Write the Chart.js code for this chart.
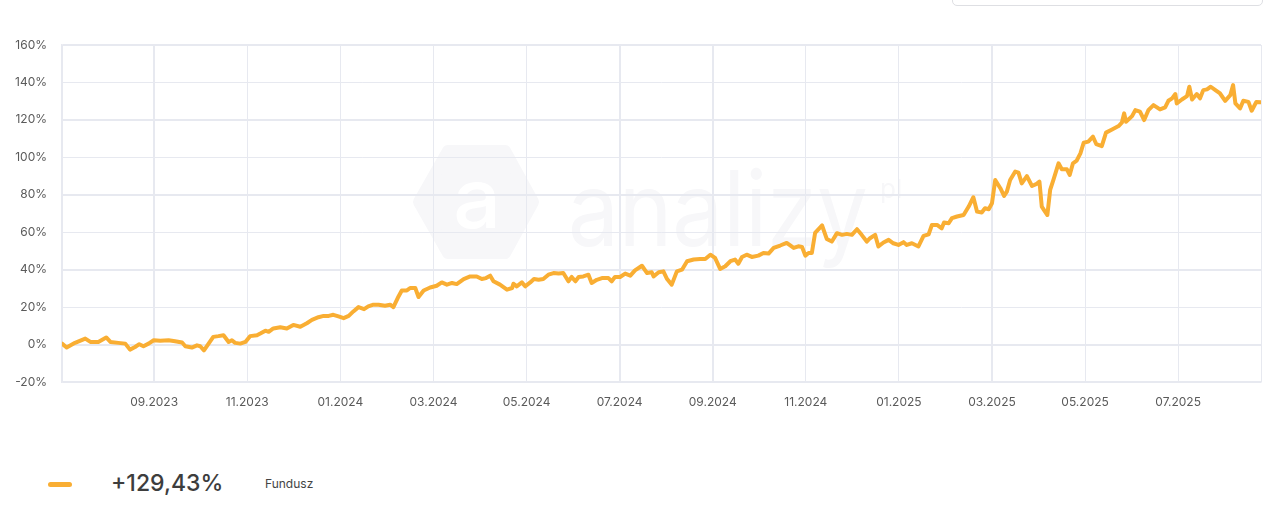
<!DOCTYPE html>
<html lang="pl">
<head>
<meta charset="utf-8">
<title>Fundusz</title>
<script src="https://cdn.jsdelivr.net/npm/chart.js@4.4.1/dist/chart.umd.min.js"></script>
<style>
  html, body { margin: 0; padding: 0; background: #fff; }
  body { width: 1284px; height: 508px; position: relative; overflow: hidden; font-family: Inter, "Noto Sans", sans-serif; }
  #wrap { position: absolute; left: 0; top: 0; width: 1284px; height: 430px; }
  #topBox { position: absolute; left: 952px; top: -30px; width: 309px; height: 34px; border: 1px solid #dedfe3; border-radius: 5px; }
  .legend-dash { position: absolute; left: 48px; top: 482px; width: 24px; height: 5px; border-radius: 3px; background: #f9ae33; }
  .legend-value { position: absolute; left: 111px; top: 469px; font-size: 23px; color: #3d3d3d; font-weight: 500; }
  .legend-name { position: absolute; left: 265px; top: 476px; font-size: 12px; color: #444; }
</style>
</head>
<body>
<div id="topBox"></div>
<div id="wrap"><canvas id="fundChart" width="1284" height="430"></canvas></div>
<div class="legend-dash"></div>
<div class="legend-value">+129,43%</div>
<div class="legend-name">Fundusz</div>

<script>
// os X: miesiace od 01.07.2023 (0 = lipiec 2023)
const months = [
  0.02, 0.12, 0.30, 0.52, 0.63, 0.80, 0.97, 1.06, 1.23, 1.38, 1.48, 1.59, 1.68, 1.77, 1.88, 1.99,
  2.13, 2.31, 2.45, 2.60, 2.67, 2.81, 2.92, 2.99, 3.07, 3.17, 3.27, 3.38, 3.49, 3.60, 3.67, 3.74,
  3.85, 3.96, 4.06, 4.21, 4.28, 4.39, 4.46, 4.56, 4.71, 4.85, 4.99, 5.14, 5.28, 5.39, 5.53, 5.64,
  5.75, 5.85, 5.96, 6.07, 6.18, 6.28, 6.39, 6.51, 6.60, 6.71, 6.82,
  6.96, 7.07, 7.14, 7.25, 7.32, 7.43, 7.50, 7.61, 7.68, 7.79, 7.93, 8.07, 8.18, 8.29, 8.40, 8.50,
  8.65, 8.79, 8.93, 9.04, 9.13, 9.22, 9.29, 9.43, 9.58, 9.69, 9.72, 9.79, 9.90, 9.97, 10.08, 10.16,
  10.26, 10.36, 10.47, 10.58, 10.69, 10.79, 10.90, 10.97, 11.05, 11.12, 11.22, 11.33, 11.40, 11.51,
  11.62, 11.76, 11.83, 11.90, 12.01, 12.12, 12.23, 12.33, 12.48, 12.59, 12.69, 12.73, 12.84, 12.94,
  13.02, 13.12, 13.23, 13.34, 13.45, 13.59, 13.73, 13.84, 13.95, 14.05, 14.16, 14.27, 14.38, 14.48,
  14.55, 14.63, 14.73, 14.84, 14.98, 15.09, 15.20, 15.31, 15.45, 15.59, 15.74, 15.84, 15.92, 15.99,
  16.06, 16.13, 16.20, 16.35, 16.45,
  16.56, 16.67, 16.78, 16.88, 16.99, 17.10, 17.20, 17.31, 17.38, 17.49, 17.56, 17.67, 17.78, 17.88,
  17.99, 18.10, 18.17, 18.28, 18.42, 18.53, 18.64, 18.71, 18.82, 18.92, 18.97, 19.07, 19.14, 19.25,
  19.39, 19.50, 19.60, 19.68, 19.78, 19.85, 19.93, 20.00, 20.07, 20.18, 20.26, 20.32, 20.39, 20.50,
  20.57, 20.64, 20.75, 20.86, 20.96, 21.02, 21.07, 21.14, 21.19, 21.25, 21.32, 21.43, 21.50, 21.61,
  21.67, 21.74, 21.82, 21.90, 21.97, 22.07, 22.17, 22.24, 22.36, 22.45, 22.58, 22.72, 22.79, 22.84,
  22.88, 23.01, 23.08, 23.18, 23.27, 23.36, 23.47, 23.61, 23.72, 23.79, 23.87, 23.94, 23.97, 24.08,
  24.19, 24.24, 24.30, 24.40, 24.47, 24.54, 24.62, 24.70, 24.80, 24.90, 25.01, 25.12, 25.18, 25.23,
  25.33, 25.40, 25.51, 25.58, 25.68, 25.78
];

// stopa zwrotu funduszu, %
const fundReturn = [
  0.5, -1.6, 0.9, 3.2, 1.4, 1.4, 3.8, 1.4, 0.9, 0.5, -2.7, -1.3, 0.2, -0.9, 0.5, 2.3,
  2.0, 2.3, 1.8, 1.1, -0.9, -1.6, -0.4, -0.9, -3.1, 0.5, 4.1, 4.5, 5.0, 1.4, 2.3, 0.9,
  0.5, 1.4, 4.5, 5.0, 5.9, 7.4, 6.8, 8.6, 9.2, 8.6, 10.5, 9.5, 11.4, 13.2, 14.6, 15.3,
  15.3, 15.9, 15.0, 14.1, 15.3, 17.7, 20.0, 18.9, 20.4, 21.3, 21.3,
  20.7, 21.3, 20.0, 25.7, 28.9, 28.9, 30.2, 30.2, 25.4, 28.9, 30.5, 31.4, 33.2, 32.0, 32.9, 32.3,
  35.0, 36.4, 36.4, 35.0, 35.5, 36.8, 33.8, 32.0, 29.3, 30.2, 32.5, 31.1, 33.2, 31.1, 33.2, 35.0,
  34.6, 35.0, 37.3, 38.2, 37.9, 38.2, 33.8, 36.1, 33.8, 36.1, 36.4, 37.3, 32.9, 34.6,
  35.5, 35.5, 33.8, 36.1, 36.1, 37.9, 36.8, 39.6, 42.1, 38.2, 38.6, 36.4, 38.6, 39.1,
  35.0, 32.0, 39.1, 40.0, 44.5, 45.4, 45.7, 45.7, 48.0, 46.3, 40.4, 41.8, 44.5, 45.4,
  43.2, 46.8, 48.0, 46.8, 47.5, 48.9, 48.6, 51.6, 52.9, 54.3, 51.6, 52.5, 52.1, 47.5,
  48.9, 48.9, 59.6, 63.6, 56.4,
  55.0, 59.5, 58.6, 59.1, 58.6, 61.6, 58.6, 55.0, 56.8, 58.6, 52.4, 54.5, 55.9, 54.1,
  53.2, 54.7, 53.2, 54.1, 52.4, 58.0, 58.9, 63.9, 63.9, 62.1, 65.2, 64.8, 67.5, 68.4,
  69.2, 73.7, 78.7, 71.0, 70.5, 72.8, 72.3, 75.5, 87.9, 83.5, 79.4, 81.7, 87.9, 92.4,
  91.8, 86.1, 90.0, 84.7, 85.8, 87.0, 73.7, 71.0, 69.2, 82.6, 87.9, 96.8, 93.6, 93.6,
  90.6, 96.8, 98.2, 102.1, 107.8, 108.4, 111.0, 107.1, 106.0, 113.2, 114.9, 116.7, 118.5, 123.5,
  119.0, 122.0, 125.2, 124.4, 119.9, 125.2, 127.9, 125.6, 126.7, 130.2, 131.5, 133.8, 128.8, 130.9,
  132.7, 137.7, 130.9, 133.8, 131.5, 135.9, 136.3, 137.7, 135.9, 134.1, 130.2, 133.2, 138.6, 128.8,
  126.1, 130.2, 129.6, 124.9, 129.6, 129.4
];

const tickMonths = [2, 4, 6, 8, 10, 12, 14, 16, 18, 20, 22, 24];
const tickLabels = ['09.2023', '11.2023', '01.2024', '03.2024', '05.2024', '07.2024',
                    '09.2024', '11.2024', '01.2025', '03.2025', '05.2025', '07.2025'];
const boldMonths = [2, 12, 14, 20];
const boldLevels = [160, 120, 80, 40, 0, -20];

const LINE_COLOR = '#f9ae33';
const GRID_COLOR = '#e7e9f0';

// znak wodny "analizy.pl" pod siatka
const watermark = {
  id: 'watermark',
  beforeDraw(chart) {
    const ctx = chart.ctx;
    ctx.save();
    ctx.fillStyle = '#f7f7f9';
    ctx.strokeStyle = '#f7f7f9';
    ctx.lineWidth = 12;
    ctx.lineJoin = 'round';
    ctx.beginPath();
    ctx.moveTo(419, 202);
    ctx.lineTo(448, 151);
    ctx.lineTo(505, 151);
    ctx.lineTo(533, 202);
    ctx.lineTo(505, 253);
    ctx.lineTo(448, 253);
    ctx.closePath();
    ctx.fill();
    ctx.stroke();

    ctx.fillStyle = '#ffffff';
    ctx.font = '500 84px Inter, sans-serif';
    ctx.textAlign = 'center';
    ctx.textBaseline = 'alphabetic';
    ctx.fillText('a', 477, 228);

    ctx.fillStyle = '#f7f7f9';
    ctx.textAlign = 'left';
    ctx.font = '400 104px Inter, sans-serif';
    ctx.fillText('analizy', 568, 246, 300);
    ctx.font = '400 26px Inter, sans-serif';
    ctx.fillText('pl', 880, 198);
    ctx.restore();
  }
};

const ctx = document.getElementById('fundChart').getContext('2d');
const points = months.map((m, i) => ({ x: m, y: fundReturn[i] }));
const xMin = months[0];
const xMax = months[months.length - 1];

new Chart(ctx, {
  type: 'line',
  data: {
    datasets: [{
      label: 'Fundusz',
      data: points,
      borderColor: LINE_COLOR,
      borderWidth: 4,
      borderJoinStyle: 'round',
      borderCapStyle: 'round',
      pointRadius: 0,
      tension: 0,
      fill: false
    }]
  },
  options: {
    responsive: false,
    animation: false,
    layout: { padding: { top: 45, right: 23, left: 0, bottom: 0 } },
    plugins: {
      legend: { display: false },
      tooltip: { enabled: false }
    },
    scales: {
      x: {
        type: 'linear',
        min: xMin,
        max: xMax,
        afterFit: (s) => { s.height = 48; },
        afterBuildTicks: (s) => {
          s.ticks = [xMin, ...tickMonths, xMax].map(v => ({ value: v }));
        },
        grid: {
          color: GRID_COLOR,
          drawTicks: false,
          lineWidth: (c) => (c.tick && boldMonths.includes(c.tick.value)) ? 2 : 1
        },
        border: { color: GRID_COLOR, width: 1.5 },
        ticks: {
          autoSkip: false,
          maxRotation: 0,
          padding: 13,
          color: '#5a5a5a',
          font: { family: 'Inter', size: 12 },
          callback: (v) => {
            const i = tickMonths.indexOf(v);
            return i >= 0 ? tickLabels[i] : '';
          }
        }
      },
      y: {
        min: -20,
        max: 160,
        afterFit: (s) => { s.width = 62; },
        grid: {
          color: GRID_COLOR,
          drawTicks: false,
          lineWidth: (c) => (c.tick && boldLevels.includes(c.tick.value)) ? 2 : 1
        },
        border: { color: GRID_COLOR, width: 1.5 },
        ticks: {
          stepSize: 20,
          padding: 15,
          color: '#5a5a5a',
          font: { family: 'Inter', size: 12 },
          callback: (v) => v + '%'
        }
      }
    }
  },
  plugins: [watermark]
});
</script>
</body>
</html>
